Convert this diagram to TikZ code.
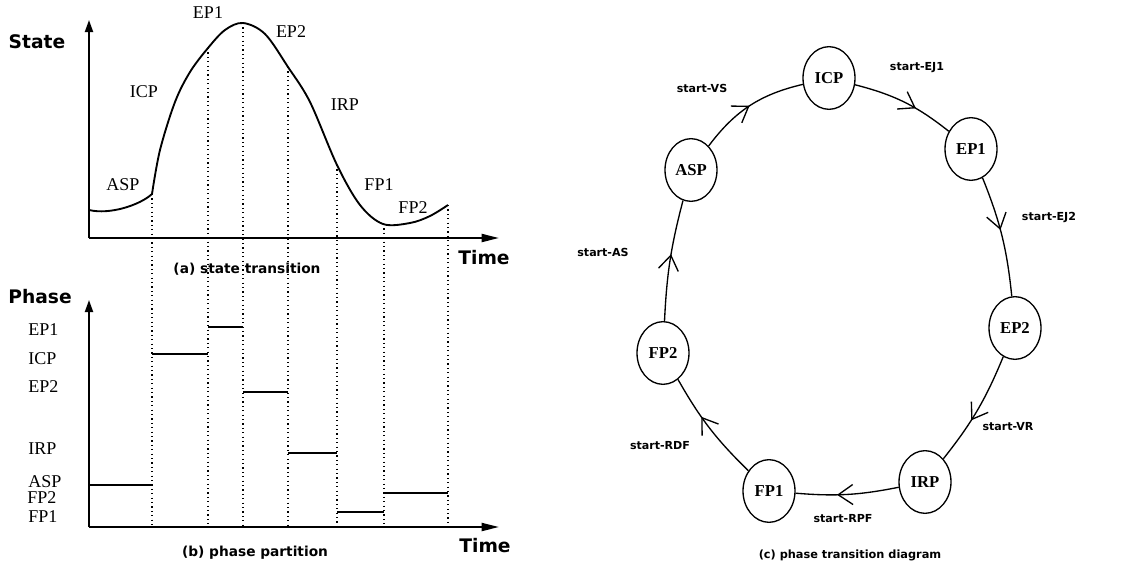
\documentclass[tikz,border=0pt]{standalone}
\usepackage{fontspec}
\setmainfont{Liberation Serif}
\newfontfamily\dvs{DejaVu Sans}
\usetikzlibrary{arrows.meta,shapes.geometric,decorations.markings}
\tikzset{
  axis/.style={line width=1.4pt},
  curve/.style={line width=1.4pt},
  bar/.style={line width=1.2pt},
  dots/.style={line width=1.1pt, dash pattern=on 0.9pt off 2.4pt},
  axlab/.style={font=\dvs\bfseries\fontsize{14}{16}\selectfont},
  captxt/.style={font=\dvs\bfseries\fontsize{10.3}{12}\selectfont},
  seriflab/.style={font=\fontsize{13.5}{15}\selectfont, inner sep=0pt},
  st/.style={draw, ellipse, line width=1pt, minimum width=39pt, minimum height=47pt, inner sep=0pt, font=\bfseries\fontsize{12.5}{14}\selectfont},
  edge/.style={line width=1pt},
  elab/.style={font=\dvs\bfseries\fontsize{8.3}{10}\selectfont, inner sep=0pt},
  midarrow/.style={postaction={decorate}, decoration={markings, mark=at position #1 with {\arrow{Straight Barb[length=11pt,width=15pt,line width=1pt]}}}}
}
\begin{document}
\begin{tikzpicture}[x=0.75pt,y=-0.75pt]
\useasboundingbox (0,0) rectangle (1146,571);
% ---------- (a) state transition ----------
\draw[axis,-{Triangle[length=9pt,width=6pt]}] (89,238) -- (89,20);
\draw[axis,-{Triangle[length=13pt,width=6pt]}] (89,238) -- (499,238);
\node[axlab] (stateL) at (37,42) {State};
\node[axlab] (timeA) at (484,258) {Time};
\draw[curve] (89,210) .. controls (110,215) and (140,205) .. (152,194);
\draw[curve] plot[smooth, tension=0.55] coordinates {(152,194) (160,150) (175,102) (190,72) (208,48) (225,30) (243,23) (265,34) (288,67) (310,102) (337,165) (360,205) (383,224) (410,223) (430,216) (448,205)};
\node[seriflab] (aASP) at (123,185) {ASP};
\node[seriflab] (aICP) at (144,92) {ICP};
\node[seriflab] (aEP1) at (208,13) {EP1};
\node[seriflab] (aEP2) at (291,32) {EP2};
\node[seriflab] (aIRP) at (345,105) {IRP};
\node[seriflab] (aFP1) at (379,185) {FP1};
\node[seriflab] (aFP2) at (413,208) {FP2};
\node[captxt] (capA) at (247,269) {(a) state transition};
% dotted separators
\draw[dots] (152,194) -- (152,527);
\draw[dots] (208,48) -- (208,527);
\draw[dots] (243,23) -- (243,527);
\draw[dots] (288,67) -- (288,527);
\draw[dots] (337,165) -- (337,527);
\draw[dots] (384,224) -- (384,527);
\draw[dots] (448,205) -- (448,527);
% ---------- (b) phase partition ----------
\draw[axis,-{Triangle[length=9pt,width=6pt]}] (89,527) -- (89,300);
\draw[axis,-{Triangle[length=13pt,width=6pt]}] (89,527) -- (499,527);
\node[axlab] (phaseL) at (40,297) {Phase};
\node[axlab] (timeB) at (485,546) {Time};
\node[captxt] (capB) at (255,553) {(b) phase partition};
\node[seriflab, anchor=west] (bEP1) at (28,330) {EP1};
\node[seriflab, anchor=west] (bICP) at (28,359) {ICP};
\node[seriflab, anchor=west] (bEP2) at (28,387) {EP2};
\node[seriflab, anchor=west] (bIRP) at (28,449) {IRP};
\node[seriflab, anchor=west] (bASP) at (28,482) {ASP};
\node[seriflab, anchor=west] (bFP2) at (27,498) {FP2};
\node[seriflab, anchor=west] (bFP1) at (28,517) {FP1};
\draw[bar] (89,485) -- (152,485);
\draw[bar] (152,354) -- (208,354);
\draw[bar] (208,327) -- (243,327);
\draw[bar] (243,392) -- (288,392);
\draw[bar] (288,453) -- (337,453);
\draw[bar] (337,512) -- (384,512);
\draw[bar] (384,493) -- (448,493);
% ---------- (c) phase transition diagram ----------
\node[st] (ICP) at (829,78) {ICP};
\node[st] (EP1) at (971,149) {EP1};
\node[st] (EP2) at (1015,328) {EP2};
\node[st] (IRP) at (925,482) {IRP};
\node[st] (FP1) at (769,491) {FP1};
\node[st] (FP2) at (663,353) {FP2};
\node[st] (ASP) at (691,170) {ASP};
\draw[edge, midarrow=0.5] (ASP) to[bend left=20] (ICP);
\draw[edge, midarrow=0.62] (ICP) to[bend left=12] (EP1);
\draw[edge, midarrow=0.45] (EP1) to[bend left=8] (EP2);
\draw[edge, midarrow=0.6] (EP2) to[bend left=8] (IRP);
\draw[edge, midarrow=0.6] (IRP) to[bend left=8] (FP1);
\draw[edge, midarrow=0.62] (FP1) to[bend left=8] (FP2);
\draw[edge, midarrow=0.55] (FP2) to[bend left=6] (ASP);
\node[elab] (lVS) at (702,88) {start-VS};
\node[elab] (lEJ1) at (917,68) {start-EJ1};
\node[elab] (lEJ2) at (1049,217) {start-EJ2};
\node[elab] (lAS) at (603,252) {start-AS};
\node[elab] (lVR) at (1008,427) {start-VR};
\node[elab] (lRPF) at (843,519) {start-RPF};
\node[elab] (lRDF) at (660,446) {start-RDF};
\node[captxt, font=\dvs\bfseries\fontsize{8.5}{10}\selectfont] (capC) at (850,555) {(c) phase transition diagram};
\end{tikzpicture}
\end{document}
